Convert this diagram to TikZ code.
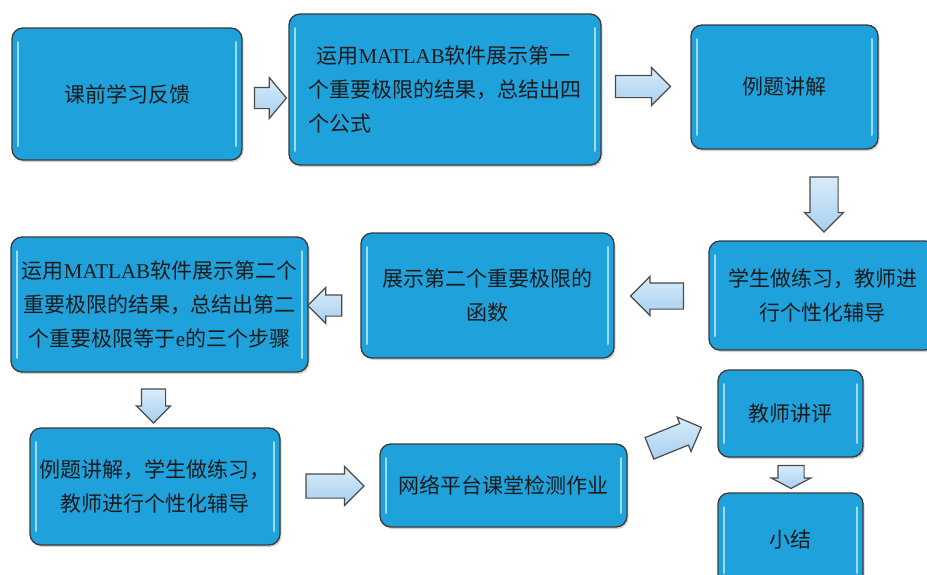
\documentclass[tikz,border=0pt]{standalone}
\usepackage{fontspec}
\setmainfont{Noto Sans CJK SC}
\newfontfamily\latinserif{Liberation Serif}
\newcommand{\lat}[1]{{\latinserif #1}}
\usetikzlibrary{shapes.arrows,shadows}
\definecolor{boxblue}{HTML}{1FA2DC}
\definecolor{boxedge}{HTML}{3A3A3A}
\definecolor{hilite}{HTML}{9ADCF5}
\definecolor{arrowtop}{HTML}{D8ECFA}
\definecolor{arrowbot}{HTML}{A8CFEE}
\definecolor{arrowedge}{HTML}{4A4A4A}
\definecolor{textcol}{HTML}{1A1A1A}
\tikzset{
  flowbox/.style={draw=boxedge, line width=1.3pt, fill=boxblue, rounded corners=11pt,
    drop shadow={shadow xshift=1.5pt, shadow yshift=-2pt, opacity=0.35},
    text=textcol, font=\fontsize{21}{34}\selectfont, align=center, inner sep=0pt,
    path picture={
      \draw[hilite, line width=2pt, line cap=round]
        ([xshift=6pt,yshift=-14pt]path picture bounding box.north west) --
        ([xshift=6pt,yshift=14pt]path picture bounding box.south west);
      \draw[hilite, line width=2pt, line cap=round]
        ([xshift=-6pt,yshift=-14pt]path picture bounding box.north east) --
        ([xshift=-6pt,yshift=14pt]path picture bounding box.south east);
    }},
  blockarrow/.style={single arrow, draw=arrowedge, line width=1.2pt,
    top color=arrowtop, bottom color=arrowbot, inner sep=0pt, outer sep=0pt,
    text depth=0pt, single arrow tip angle=90},
}
\begin{document}
\begin{tikzpicture}[x=1pt,y=-1pt]
\useasboundingbox (0,0) rectangle (927,574);
\fill[white] (0,0) rectangle (927,574);
\clip (0,0) rectangle (927,574);

% boxes
\node[flowbox, minimum width=230pt, minimum height=132pt] (b1) at (127,94) {课前学习反馈};
\node[flowbox, minimum width=312pt, minimum height=151pt, align=left] (b2) at (445,89.5)
  {\hspace*{8pt}运用\lat{MATLAB}软件展示第一\\个重要极限的结果，总结出四\\个公式};
\node[flowbox, minimum width=187pt, minimum height=124pt] (b3) at (784.5,87) {例题讲解};
\node[flowbox, minimum width=227pt, minimum height=109pt] (b4) at (822.5,295.5)
  {学生做练习，教师进\\行个性化辅导};
\node[flowbox, minimum width=253pt, minimum height=125pt] (b5) at (487.5,295.5)
  {展示第二个重要极限的\\函数};
\node[flowbox, minimum width=297pt, minimum height=135pt] (b6) at (159.5,304.5)
  {运用\lat{MATLAB}软件展示第二个\\重要极限的结果，总结出第二\\个重要极限等于\lat{e}的三个步骤};
\node[flowbox, minimum width=250pt, minimum height=117pt] (b7) at (155,486.5)
  {例题讲解，学生做练习，\\教师进行个性化辅导};
\node[flowbox, minimum width=247pt, minimum height=83pt] (b8) at (503.5,485.5)
  {网络平台课堂检测作业};
\node[flowbox, minimum width=145pt, minimum height=87pt] (b9) at (790.5,413.5) {教师讲评};
\node[flowbox, minimum width=145pt, minimum height=94pt] (b10) at (790.5,540) {小结};

% block arrows
\node[blockarrow, minimum height=32pt, text height=20pt, single arrow head extend=10pt,
      single arrow tip angle=100] (a1) at (266,98) {};
\node[blockarrow, minimum height=55pt, text height=21pt, single arrow head extend=8pt] (a2) at (637.5,86.5) {};
\node[blockarrow, rotate=-90, minimum height=55pt, text height=27pt, single arrow head extend=5.5pt] (a3) at (824,197.5) {};
\node[blockarrow, rotate=180, minimum height=53pt, text height=25pt, single arrow head extend=6.5pt] (a4) at (663.5,296) {};
\node[blockarrow, rotate=180, minimum height=34pt, text height=20pt, single arrow head extend=7.5pt] (a5) at (330,305.5) {};
\node[blockarrow, rotate=-90, minimum height=34pt, text height=23pt, single arrow head extend=5pt] (a6) at (153.5,400) {};
\node[blockarrow, minimum height=58pt, text height=23pt, single arrow head extend=7.5pt] (a7) at (329,486) {};
\node[blockarrow, rotate=22, minimum height=56pt, text height=22pt, single arrow head extend=7pt] (a8) at (670,440) {};
\node[blockarrow, rotate=-90, minimum height=23pt, text height=25pt, single arrow head extend=6.5pt,
      single arrow tip angle=124] (a9) at (791,473.5) {};
\end{tikzpicture}
\end{document}
